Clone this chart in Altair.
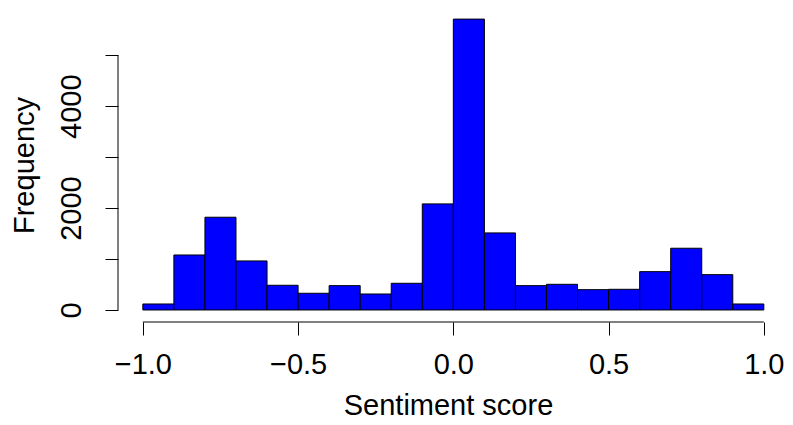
import altair as alt
import pandas as pd

bin_start = [-1.0, -0.9, -0.8, -0.7, -0.6, -0.5, -0.4, -0.3, -0.2, -0.1,
             0.0, 0.1, 0.2, 0.3, 0.4, 0.5, 0.6, 0.7, 0.8, 0.9]
counts = [118, 1080, 1821, 963, 485, 328, 478, 314, 524, 2083,
          5711, 1513, 478, 504, 399, 406, 753, 1212, 694, 118]
x_ticks = [-1.0, -0.5, 0.0, 0.5, 1.0]
y_ticks = [0, 1000, 2000, 3000, 4000, 5000]

df = pd.DataFrame({
    "start": bin_start,
    "end": [round(s + 0.1, 1) for s in bin_start],
    "count": counts,
    "zero": [0] * len(counts),
})

FONT = "Liberation Sans"
FS = 29
W, H = 660, 314

xscale = alt.Scale(domain=[-1.08, 1.0456], nice=False, zero=False)
yscale = alt.Scale(domain=[-236, 5929], nice=False, zero=False)

bars = alt.Chart(df).mark_rect(fill="#0000FF", stroke="black", strokeWidth=1).encode(
    x=alt.X("start:Q", scale=xscale,
            axis=alt.Axis(values=x_ticks, format=".1f", domain=False, grid=False,
                          tickSize=13, tickColor="black", tickWidth=1,
                          labelFont=FONT, labelFontSize=FS, labelColor="black",
                          labelBaseline="alphabetic", labelPadding=38,
                          labelFlush=False, labelOverlap=False,
                          title="Sentiment score", titleFont=FONT, titleFontSize=FS,
                          titleFontWeight="normal", titleColor="black",
                          titlePadding=12)),
    x2="end:Q",
    y=alt.Y("count:Q", scale=yscale,
            axis=alt.Axis(values=y_ticks, domain=False, grid=False,
                          labelExpr="datum.value % 2000 == 0 ? format(datum.value, 'd') : ''",
                          tickSize=13, tickColor="black", tickWidth=1,
                          labelFont=FONT, labelFontSize=FS, labelColor="black",
                          labelAngle=-90, labelAlign="center", labelBaseline="alphabetic",
                          labelPadding=25, labelOverlap=False,
                          title="Frequency", titleFont=FONT, titleFontSize=FS,
                          titleFontWeight="normal", titleColor="black",
                          titlePadding=18)),
    y2="zero:Q",
)

xline_df = pd.DataFrame({"a": [x_ticks[0]], "b": [x_ticks[-1]]})
xline = alt.Chart(xline_df).mark_rule(color="black", strokeWidth=1).encode(
    x=alt.X("a:Q", scale=xscale), x2="b:Q", y=alt.value(H)
)
yline_df = pd.DataFrame({"a": [y_ticks[0]], "b": [y_ticks[-1]]})
yline = alt.Chart(yline_df).mark_rule(color="black", strokeWidth=1).encode(
    y=alt.Y("a:Q", scale=yscale), y2="b:Q", x=alt.value(0)
)

chart = alt.layer(bars, xline, yline).properties(
    width=W, height=H,
    autosize=alt.AutoSizeParams(type="none"),
    padding={"left": 110, "top": 0, "right": 7, "bottom": 95},
    background="white",
).configure_view(stroke=None)

chart.save("out.html", embed_options={"renderer": "svg", "actions": False})
